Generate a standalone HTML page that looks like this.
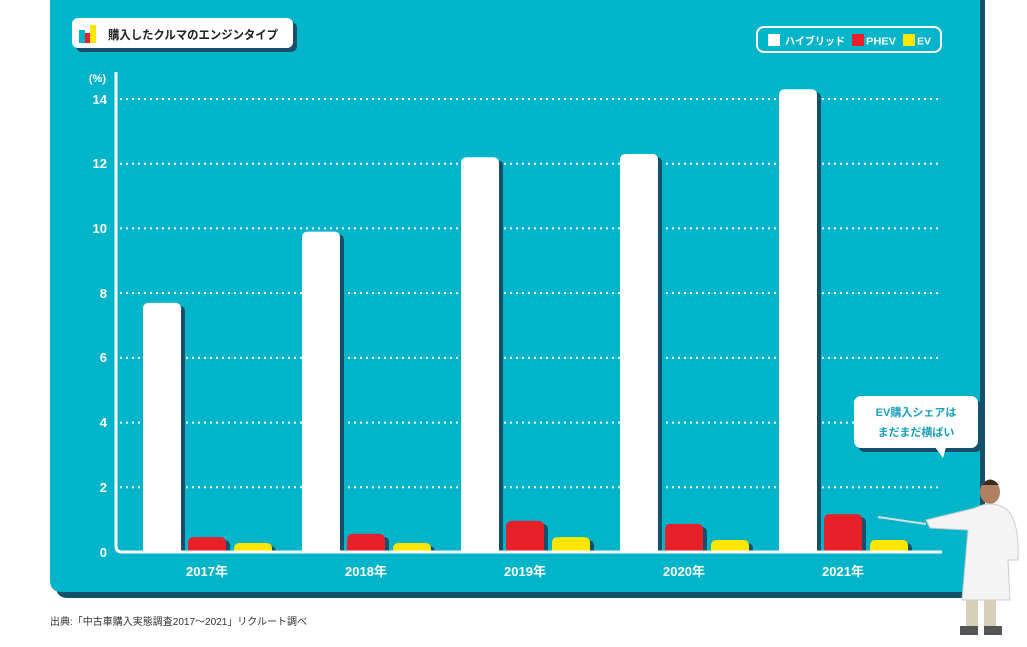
<!DOCTYPE html>
<html><head><meta charset="utf-8"><style>
body{margin:0;width:1027px;height:642px;background:#fff;overflow:hidden;font-family:"Liberation Sans","Noto Sans CJK JP",sans-serif}
</style></head><body>
<svg width="1027" height="642" viewBox="0 0 1027 642" xmlns="http://www.w3.org/2000/svg" font-family="Liberation Sans, Noto Sans CJK JP, sans-serif">
<path d="M56 0 H985 V598 H68 Q56 598 56 586 Z" fill="#15506b"/>
<path d="M50 0 H980 V592 H62 Q50 592 50 580 Z" fill="#00b4ca"/>
<!-- title -->
<rect x="76" y="22" width="221" height="30" rx="6" fill="#15506b"/>
<rect x="72" y="18" width="221" height="30" rx="6" fill="#fff"/>
<rect x="79" y="30" width="6" height="13" fill="#00b4ca"/><rect x="85" y="33" width="5" height="10" fill="#e8202a"/><rect x="90" y="25" width="6" height="18" fill="#ffe600"/>
<text x="108" y="39" font-size="12" font-weight="bold" fill="#222" textLength="170" lengthAdjust="spacingAndGlyphs">購入したクルマのエンジンタイプ</text>
<!-- legend -->
<rect x="757" y="27" width="184" height="25" rx="7" fill="none" stroke="#fff" stroke-width="2"/>
<rect x="768" y="34" width="12" height="12" fill="#fff"/>
<text x="785" y="44.5" font-size="10.5" font-weight="bold" fill="#fff" textLength="60" lengthAdjust="spacingAndGlyphs">ハイブリッド</text>
<rect x="852" y="34" width="12" height="12" fill="#e8202a"/>
<text x="866" y="44.5" font-size="10.5" font-weight="bold" fill="#fff" textLength="30" lengthAdjust="spacingAndGlyphs">PHEV</text>
<rect x="903" y="34" width="12" height="12" fill="#ffe600"/>
<text x="917" y="44.5" font-size="10.5" font-weight="bold" fill="#fff">EV</text>
<!-- grid -->
<g stroke="#fff" stroke-width="2" stroke-dasharray="2 4">
<line x1="120" x2="942" y1="99" y2="99"/><line x1="120" x2="942" y1="163.7" y2="163.7"/><line x1="120" x2="942" y1="228.4" y2="228.4"/><line x1="120" x2="942" y1="293.1" y2="293.1"/><line x1="120" x2="942" y1="357.9" y2="357.9"/><line x1="120" x2="942" y1="422.6" y2="422.6"/><line x1="120" x2="942" y1="487.3" y2="487.3"/>
</g>
<g font-size="13" font-weight="bold" fill="#fff" text-anchor="end">
<text x="106" y="82" font-size="11">(%)</text>
<text x="107" y="104">14</text><text x="107" y="168">12</text><text x="107" y="233">10</text><text x="107" y="298">8</text><text x="107" y="362">6</text><text x="107" y="427">4</text><text x="107" y="492">2</text><text x="107" y="557">0</text>
</g>
<g id="bars"></g>
<path d="M116 72 V546 Q116 552 122 552 H942" fill="none" stroke="#fff" stroke-width="3"/>
<g font-size="13" font-weight="bold" fill="#fff" text-anchor="middle">
<text x="207" y="576">2017年</text><text x="366" y="576">2018年</text><text x="525" y="576">2019年</text><text x="684" y="576">2020年</text><text x="843" y="576">2021年</text>
</g>
<!-- bubble -->
<rect x="858" y="400" width="124" height="52" rx="7" fill="#15506b"/>
<rect x="854" y="396" width="124" height="52" rx="7" fill="#fff"/>
<path d="M935 447 L943 458 L946 447 Z" fill="#fff"/>
<text x="916" y="416" font-size="11" font-weight="bold" fill="#1aa0b8" text-anchor="middle">EV購入シェアは</text>
<text x="916" y="436" font-size="11" font-weight="bold" fill="#1aa0b8" text-anchor="middle">まだまだ横ばい</text>
<!-- person -->
<line x1="878" y1="517" x2="926" y2="524" stroke="#ddd" stroke-width="2"/>
<ellipse cx="990" cy="492" rx="10" ry="12" fill="#b08060"/>
<path d="M982 485 Q990 474 999 485 Z" fill="#3a2a20"/>
<path d="M926 520 L975 508 Q990 500 1005 508 Q1020 520 1018 560 L1008 560 L1010 600 L962 600 L968 530 L930 528 Z" fill="#f4f4f4" stroke="#ccc"/>
<rect x="966" y="600" width="12" height="26" fill="#d8cfb8"/><rect x="984" y="600" width="12" height="26" fill="#d8cfb8"/>
<rect x="960" y="626" width="18" height="9" fill="#555"/><rect x="984" y="626" width="18" height="9" fill="#555"/>
<text x="50" y="625" font-size="10" fill="#333">出典:「中古車購入実態調査2017～2021」リクルート調べ</text>
</svg>
<script>
const g=document.getElementById('bars');
const d=[[7.7,.46,.28],[9.9,.56,.28],[12.2,.96,.46],[12.3,.87,.37],[14.3,1.17,.37]];
const cols=['#fff','#e8202a','#ffe600'],offs=[143,188,234];
let s='';
d.forEach((r,i)=>r.forEach((v,j)=>{const x=offs[j]+159*i,y=552-32.36*v,w=38;
s+=`<path d="M${x+4} ${y+3+6}q0-6 6-6h${w-12}q6 0 6 6V552H${x+4}Z" fill="#15506b"/>`;
s+=`<path d="M${x} ${y+6}q0-6 6-6h${w-12}q6 0 6 6V552H${x}Z" fill="${cols[j]}"/>`;}));
g.innerHTML=s;
</script>
</body></html>
